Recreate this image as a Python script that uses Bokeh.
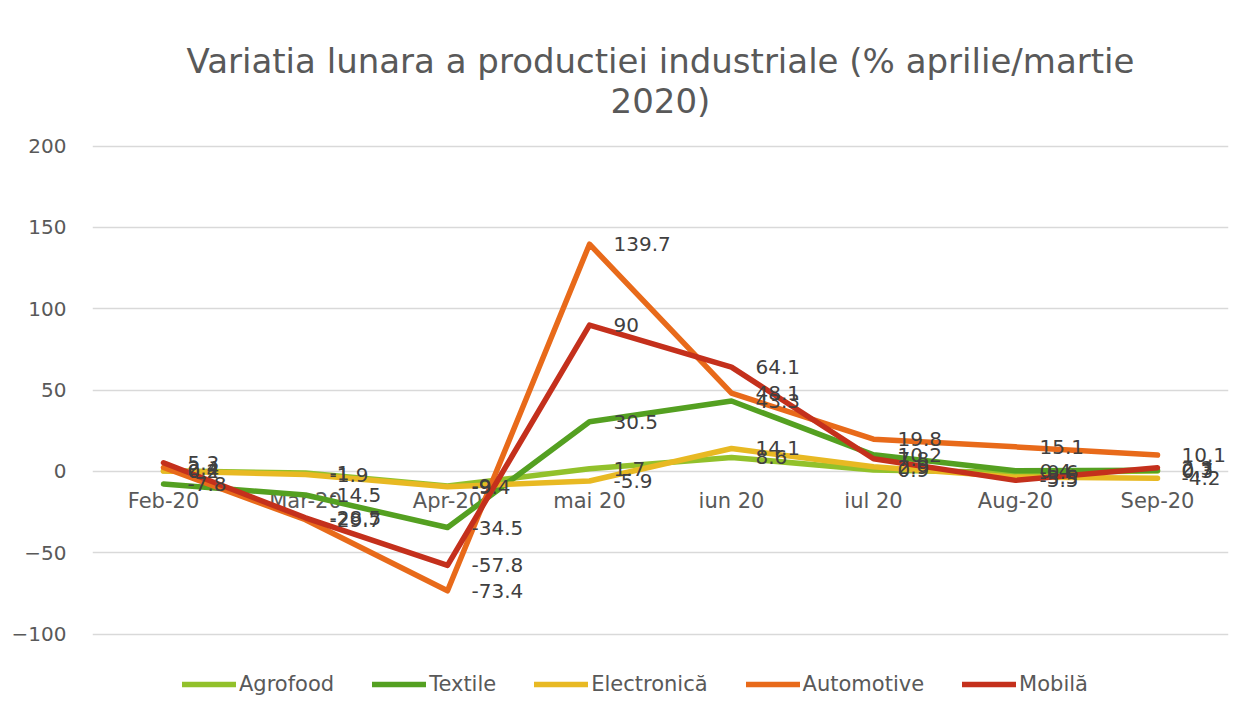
from bokeh.plotting import figure
from bokeh.models import Range1d, Legend, LegendItem, Title, ColumnDataSource, FixedTicker
from bokeh.core.properties import value
from bokeh.embed import file_html
from bokeh.resources import INLINE

months = ["Feb-20", "Mar-20", "Apr-20", "mai 20", "iun 20", "iul 20", "Aug-20", "Sep-20"]
agrofood = [0.4, -1.0, -9.0, 1.7, 8.6, 0.9, -0.6, 0.3]
textile = [-7.8, -14.5, -34.5, 30.5, 43.3, 10.2, 0.4, 0.7]
electronica = [0.2, -1.9, -9.4, -5.9, 14.1, 2.9, -3.5, -4.2]
automotive = [2.4, -29.7, -73.4, 139.7, 48.1, 19.8, 15.1, 10.1]
mobila = [5.3, -28.5, -57.8, 90.0, 64.1, 7.8, -5.5, 2.3]

series_names = ["Agrofood", "Textile", "Electronică", "Automotive", "Mobilă"]
series_values = [agrofood, textile, electronica, automotive, mobila]
series_colors = ["#92C12B", "#54A021", "#E8B923", "#E86A1A", "#C4301C"]
y_ticks = [-100, -50, 0, 50, 100, 150, 200]

FONT = "DejaVu Sans"

p = figure(x_range=months, width=1243, height=711, output_backend="svg",
           toolbar_location=None, title=None,
           min_border_left=92, min_border_right=15, min_border_top=144, min_border_bottom=0)
# lower end leaves room for the legend under the -100 gridline
p.y_range = Range1d(-147.6, 201)
p.outline_line_color = None
p.background_fill_color = "white"
p.border_fill_color = "white"

title = Title(text="Variatia lunara a productiei industriale (% aprilie/martie\n2020)",
              align="center", text_align="center", text_font=FONT, text_font_size="34px",
              text_color="#595959", text_font_style="normal", standoff=48)
p.add_layout(title, "above")

# axes
p.yaxis.ticker = FixedTicker(ticks=y_ticks)
p.yaxis.axis_line_color = None
p.yaxis.major_tick_line_color = None
p.yaxis.minor_tick_line_color = None
p.yaxis.major_label_text_font = FONT
p.yaxis.major_label_text_font_size = "20px"
p.yaxis.major_label_text_color = "#595959"
p.yaxis.major_label_standoff = 20

p.xaxis.visible = False

p.xgrid.grid_line_color = None
p.ygrid.grid_line_color = "#D9D9D9"
p.ygrid.grid_line_width = 1.5

# category labels drawn next to the zero line
cat_src = ColumnDataSource(dict(x=months, y=[0] * len(months)))
p.text("x", "y", text="x", source=cat_src, y_offset=18, text_baseline="top", text_align="center",
       text_font=value(FONT), text_font_size="21px", text_color="#595959")

items = []
renderers = []
for name, vals, col in zip(series_names, series_values, series_colors):
    src = ColumnDataSource(dict(x=months, y=vals, lab=[("%g" % v) for v in vals]))
    r = p.line("x", "y", source=src, line_color=col, line_width=5.5, line_join="round", line_cap="round")
    items.append(LegendItem(label=name, renderers=[r]))
    renderers.append((src, col))

for src, col in renderers:
    p.text("x", "y", text="lab", source=src, x_offset=24, text_baseline="middle", text_align="left",
           text_font=value(FONT), text_font_size="20px", text_color="#404040")

legend = Legend(items=items, orientation="horizontal", location=(90, 15),
                label_text_font=FONT, label_text_font_size="21px", label_text_color="#595959",
                glyph_width=54, glyph_height=22, label_standoff=3, spacing=38,
                padding=0, margin=0, border_line_color=None, background_fill_alpha=0)
p.add_layout(legend)

open("out.html", "w").write(file_html(p, INLINE))
